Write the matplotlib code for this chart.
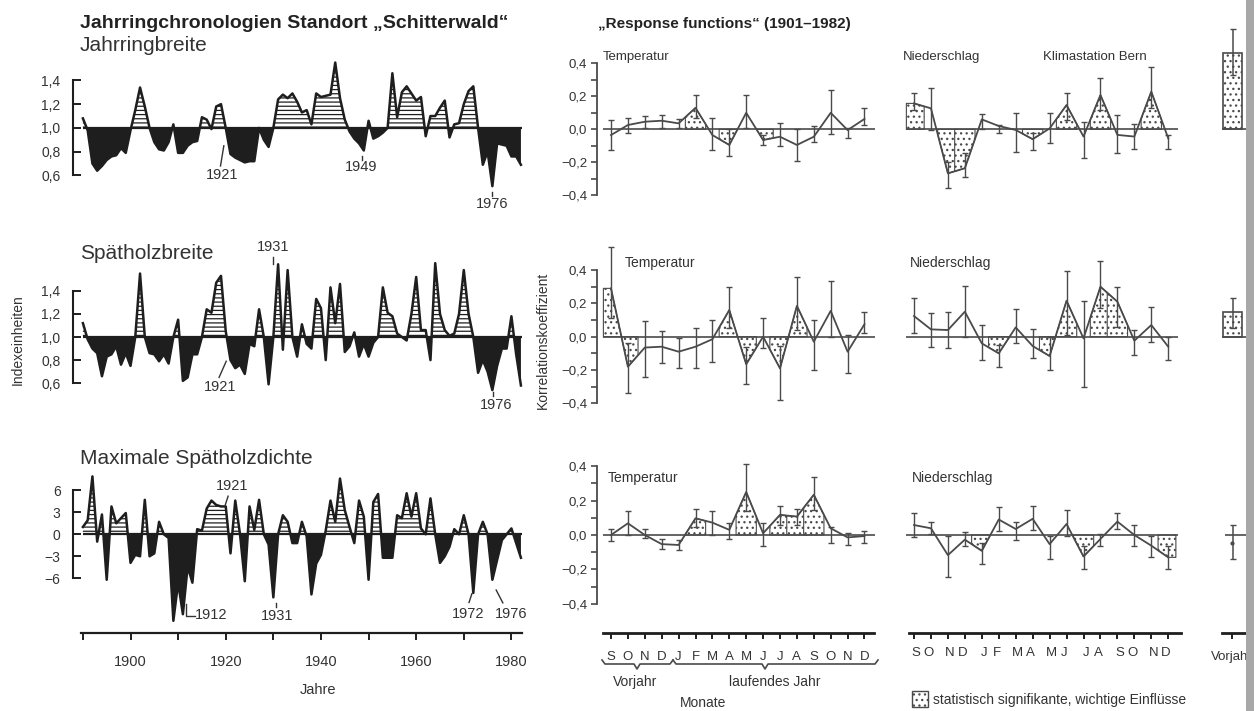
import numpy as np
import matplotlib.pyplot as plt
from matplotlib.lines import Line2D
from matplotlib.patches import Rectangle

plt.rcParams['font.family'] = ['Liberation Sans', 'DejaVu Sans']
plt.rcParams['hatch.linewidth'] = 0.9

W, H = 1254, 711
TXT = '#333333'
INK = '#1e1e1e'
GRY = '#4a4a4a'

# ---- data: tree-ring chronologies 1890-1982 ----
years = np.arange(1890, 1983)

ring_width = [1.08, 0.98, 0.70, 0.64, 0.68, 0.73, 0.76, 0.77, 0.83, 0.79,
              0.98, 1.15, 1.34, 1.18, 1.00, 0.88, 0.82, 0.81, 0.88, 1.03,
              0.79, 0.79, 0.85, 0.88, 0.89, 1.09, 1.07, 0.99, 1.18, 1.20,
              1.00, 0.78, 0.75, 0.73, 0.71, 0.72, 0.72, 1.00, 0.90, 0.84,
              1.00, 1.24, 1.28, 1.25, 1.29, 1.22, 1.13, 1.15, 1.03, 1.29,
              1.26, 1.27, 1.28, 1.55, 1.25, 1.07, 0.97, 0.91, 0.87, 0.81,
              1.06, 0.91, 0.93, 0.96, 1.00, 1.46, 1.09, 1.30, 1.35, 1.29,
              1.23, 1.26, 0.93, 1.10, 1.10, 1.17, 1.23, 0.92, 1.03, 1.04,
              1.20, 1.31, 1.35, 1.00, 0.69, 0.80, 0.51, 0.87, 0.86, 0.85,
              0.76, 0.76, 0.69]

late_width = [1.12, 0.98, 0.90, 0.86, 0.66, 0.83, 0.85, 0.92, 0.76, 0.86,
              0.75, 1.00, 1.55, 1.00, 0.86, 0.85, 0.79, 0.85, 0.77, 1.00,
              1.15, 0.62, 0.65, 0.85, 0.85, 1.00, 1.24, 1.21, 1.47, 1.53,
              1.05, 0.80, 0.73, 0.76, 0.68, 0.94, 0.92, 1.24, 1.00, 0.59,
              1.00, 1.63, 0.89, 1.58, 1.00, 0.83, 1.11, 0.94, 0.90, 1.33,
              1.25, 0.80, 1.43, 1.12, 1.46, 0.87, 0.92, 1.04, 0.83, 0.94,
              0.83, 0.95, 1.00, 1.43, 1.21, 1.18, 1.03, 1.00, 0.97, 1.20,
              1.52, 1.06, 1.06, 0.80, 1.64, 1.20, 1.06, 1.01, 1.03, 1.20,
              1.58, 1.20, 1.00, 0.69, 0.80, 0.70, 0.54, 0.75, 0.90, 0.90,
              1.18, 0.85, 0.58]

max_density = [1.0, 1.9, 7.9, -1.0, 2.7, -6.2, 3.8, 1.5, 2.2, 2.9,
               -3.9, -2.8, -3.0, 4.7, -3.0, -2.6, 1.7, 0.0, -0.5, -11.8,
               -6.6, -10.9, -4.4, -6.6, 0.7, 0.5, 3.5, 4.6, 4.0, 3.8,
               3.8, -2.6, 4.6, 0.0, -6.4, 3.8, 0.6, 4.7, 0.0, -1.4,
               -8.6, 0.0, 2.6, 1.7, -1.2, -1.2, 1.7, -0.3, -8.2, -4.0,
               -2.8, 0.5, 4.6, 1.7, 7.6, 3.3, 1.0, -1.2, 4.6, 2.4,
               -6.2, 4.4, 5.5, -3.2, -3.2, -3.2, 2.6, 2.2, 5.6, 2.4,
               5.6, 0.8, 0.0, 4.9, 0.0, -3.9, -3.0, -1.7, 0.7, 0.0,
               2.6, 0.0, -8.0, 0.0, 1.7, 0.0, -6.2, -3.5, -0.8, 0.0,
               0.8, -1.2, -3.2]

# ---- data: response functions (Sep previous year .. Dec current year) ----
months = ['S', 'O', 'N', 'D', 'J', 'F', 'M', 'A', 'M', 'J', 'J', 'A', 'S', 'O', 'N', 'D']

temp1_val = [-0.035, 0.026, 0.046, 0.052, 0.036, 0.13, -0.035, -0.095, 0.10, -0.065, -0.045, -0.095, -0.045, 0.10, -0.005, 0.063]
temp1_hi = [0.057, 0.07, 0.08, 0.087, 0.06, 0.21, 0.067, 0.0, 0.21, -0.035, 0.04, 0.0, 0.02, 0.24, 0.006, 0.13]
temp1_lo = [-0.125, -0.02, 0.006, 0.006, 0.006, 0.067, -0.125, -0.16, 0.006, -0.095, -0.10, -0.19, -0.075, -0.03, -0.05, 0.026]
temp1_sig = [5, 7, 9]

temp2_val = [0.29, -0.18, -0.065, -0.06, -0.09, -0.06, -0.015, 0.16, -0.165, 0.0, -0.19, 0.185, -0.03, 0.155, -0.09, 0.075]
temp2_hi = [0.54, -0.04, 0.095, 0.035, -0.01, 0.05, 0.10, 0.30, -0.06, 0.115, -0.055, 0.36, 0.10, 0.335, 0.01, 0.15]
temp2_lo = [0.11, -0.34, -0.24, -0.155, -0.185, -0.19, -0.15, 0.05, -0.285, -0.07, -0.38, 0.04, -0.20, 0.0, -0.22, 0.025]
temp2_sig = [0, 1, 7, 8, 10, 11]

temp3_val = [0.0, 0.068, 0.0, -0.053, -0.058, 0.097, 0.072, 0.03, 0.25, 0.01, 0.117, 0.107, 0.234, 0.039, -0.014, -0.006]
temp3_hi = [0.033, 0.14, 0.035, -0.025, -0.03, 0.15, 0.137, 0.068, 0.41, 0.072, 0.166, 0.152, 0.34, 0.049, 0.01, 0.023]
temp3_lo = [-0.033, 0.0, -0.02, -0.084, -0.09, 0.049, 0.0, -0.025, 0.137, -0.064, 0.058, 0.058, 0.146, -0.045, -0.058, -0.045]
temp3_sig = [5, 8, 10, 11, 12]

prec1_val = [0.157, 0.127, -0.267, -0.236, 0.06, 0.02, -0.004, -0.06, 0.005, 0.147, -0.044, 0.208, -0.034, -0.044, 0.228, -0.055]
prec1_hi = [0.22, 0.25, -0.196, -0.145, 0.093, 0.026, 0.10, -0.024, 0.10, 0.218, 0.046, 0.31, 0.087, 0.032, 0.376, -0.034]
prec1_lo = [0.117, -0.004, -0.357, -0.287, 0.0, -0.024, -0.135, -0.125, -0.085, 0.057, -0.176, 0.117, -0.145, -0.121, 0.127, -0.121]
prec1_sig = [0, 2, 3, 7, 9, 11, 14]

prec2_val = [0.124, 0.044, 0.04, 0.15, -0.04, -0.10, 0.056, -0.056, -0.116, 0.216, -0.01, 0.30, 0.21, -0.024, 0.07, -0.06]
prec2_hi = [0.23, 0.144, 0.15, 0.304, 0.07, -0.05, 0.164, 0.044, -0.004, 0.394, 0.214, 0.456, 0.30, 0.04, 0.18, 0.0]
prec2_lo = [0.02, -0.06, -0.07, 0.0, -0.14, -0.18, -0.04, -0.13, -0.20, 0.01, -0.304, 0.17, 0.06, -0.11, -0.03, -0.14]
prec2_sig = [5, 8, 9, 11, 12]

prec3_val = [0.058, 0.039, -0.117, -0.027, -0.092, 0.09, 0.035, 0.094, -0.053, 0.064, -0.125, -0.023, 0.078, 0.0, -0.062, -0.13]
prec3_hi = [0.129, 0.074, -0.008, 0.016, -0.047, 0.162, 0.078, 0.17, -0.004, 0.146, -0.062, 0.006, 0.129, 0.058, -0.008, -0.062]
prec3_lo = [-0.014, 0.006, -0.242, -0.066, -0.17, 0.025, -0.027, 0.029, -0.137, -0.008, -0.195, -0.062, 0.035, -0.066, -0.13, -0.20]
prec3_sig = [4, 10, 15]

# previous-year ring ("Vorjahr") coefficient per row
prev_val = [0.46, 0.15, -0.045]
prev_hi = [0.61, 0.23, 0.06]
prev_lo = [0.33, 0.055, -0.14]
prev_sig = [True, True, False]

fig = plt.figure(figsize=(W / 100, H / 100), dpi=100)


def px_axes(x0, y0, x1, y1):
    # axes from pixel box (origin top-left of the picture)
    ax = fig.add_axes([x0 / W, 1 - y1 / H, (x1 - x0) / W, (y1 - y0) / H])
    ax.patch.set_alpha(0)
    return ax


def fig_text(x, y, s, **kw):
    kw.setdefault('color', TXT)
    fig.text(x / W, 1 - y / H, s, **kw)


def fig_line(xs, ys, **kw):
    fig.add_artist(Line2D([x / W for x in xs], [1 - y / H for y in ys],
                          transform=fig.transFigure, **kw))


# ---------- left column: chronologies ----------
def chrono_panel(y0, y1, vals, base, lim, ticks, labels):
    ax = px_axes(73, y0, 522.5, y1)
    v = np.array(vals)
    ax.fill_between(years, base, v, where=v >= base, interpolate=True,
                    facecolor='white', edgecolor=INK, hatch='----', linewidth=0)
    ax.fill_between(years, base, v, where=v <= base, interpolate=True,
                    facecolor=INK, linewidth=0)
    ax.plot(years, v, color=INK, lw=1.8)
    ax.hlines(base, 1890, 1982.3, color=INK, lw=1.6)
    ax.set_xlim(1887.92, 1982.33)
    ax.set_ylim(lim)
    for s in ['top', 'right', 'bottom']:
        ax.spines[s].set_visible(False)
    ax.spines['left'].set_bounds(ticks[0], ticks[-1])
    ax.spines['left'].set_linewidth(1.5)
    ax.spines['left'].set_color(INK)
    ax.set_yticks(ticks)
    ax.set_yticklabels(labels)
    ax.tick_params(axis='y', direction='in', length=6, width=1.4, pad=9,
                   labelsize=10, labelcolor=TXT, color=INK)
    ax.set_xticks([])
    return ax


ax1 = chrono_panel(56.6, 193.3, ring_width, 1.0, (0.45, 1.6),
                   [0.6, 0.8, 1.0, 1.2, 1.4], ['0,6', '0,8', '1,0', '1,2', '1,4'])
ax2 = chrono_panel(253.9, 400.5, late_width, 1.0, (0.45, 1.72),
                   [0.6, 0.8, 1.0, 1.2, 1.4], ['0,6', '0,8', '1,0', '1,2', '1,4'])
ax3 = chrono_panel(468.3, 632.7, max_density, 0.0, (-13.42, 9.0),
                   [-6, -3, 0, 3, 6], ['\u22126', '\u22123', '0', '3', '6'])

ax3.spines['bottom'].set_visible(True)
ax3.spines['bottom'].set_bounds(1889.6, 1982.3)
ax3.spines['bottom'].set_linewidth(1.6)
ax3.spines['bottom'].set_color(INK)
ax3.set_xticks([1900, 1920, 1940, 1960, 1980])
ax3.set_xticks([1890, 1910, 1930, 1950, 1970], minor=True)
ax3.tick_params(axis='x', which='both', direction='out', length=5, width=1.4,
                color=INK, pad=11, labelsize=10.5, labelcolor=TXT)

anno = dict(ha='center', va='center', fontsize=10.5, color=TXT)
ln = dict(color=TXT, lw=1.0, clip_on=False)
ax1.text(1919.2, 0.60, '1921', **anno)
ax1.plot([1918.9, 1919.6], [0.68, 0.85], **ln)
ax1.text(1948.4, 0.67, '1949', **anno)
ax1.plot([1948.6, 1948.6], [0.73, 0.76], **ln)
ax1.text(1976.0, 0.36, '1976', **anno)
ax1.plot([1976.0, 1976.0], [0.43, 0.46], **ln)

ax2.text(1929.9, 1.78, '1931', **anno)
ax2.plot([1929.9, 1929.9], [1.63, 1.69], **ln)
ax2.text(1918.8, 0.57, '1921', **anno)
ax2.plot([1918.6, 1920.1], [0.65, 0.79], **ln)
ax2.text(1976.8, 0.41, '1976', **anno)
ax2.plot([1976.2, 1976.2], [0.49, 0.52], **ln)

ax3.text(1921.3, 6.6, '1921', **anno)
ax3.plot([1920.5, 1919.9], [5.2, 4.0], **ln)
ax3.text(1916.9, -11.0, '1912', **anno)
ax3.plot([1911.7, 1911.7, 1913.6], [-9.5, -11.1, -11.1], **ln)
ax3.text(1930.8, -11.1, '1931', **anno)
ax3.plot([1930.6, 1930.6], [-9.4, -9.9], **ln)
ax3.text(1970.9, -10.9, '1972', **anno)
ax3.plot([1971.1, 1971.7], [-9.3, -8.1], **ln)
ax3.text(1980.0, -10.9, '1976', **anno)
ax3.plot([1978.2, 1976.8], [-9.35, -7.6], **ln)

fig_text(80, 28, 'Jahrringchronologien Standort \u201eSchitterwald\u201c',
         fontsize=14, fontweight='bold', va='baseline', color='#222222')
fig_text(80, 51, 'Jahrringbreite', fontsize=15, va='baseline')
fig_text(80, 259, 'Sp\u00e4tholzbreite', fontsize=15, va='baseline')
fig_text(80, 464, 'Maximale Sp\u00e4tholzdichte', fontsize=15, va='baseline')
fig_text(18, 340, 'Indexeinheiten', fontsize=10, rotation=90, ha='center', va='center')
fig_text(318, 690, 'Jahre', fontsize=10.5, ha='center', va='center')

# ---------- right block: response functions ----------
x_m = np.arange(16)
T_XLIM = ((597 - 611) / 16.9, (880 - 611) / 16.9)
P_XLIM = ((900 - 914) / 16.95, (1180 - 914) / 16.95)


def response(ax, val, hi, lo, sig, xlim):
    v = np.array(val)
    for i in sig:
        a = i - 0.6 if i > 0 else -0.45
        b = i + 0.6 if i < 15 else 15.45
        xs = np.linspace(a, b, 60)
        vs = np.interp(xs, x_m, v)
        sgn = np.sign(v[i])
        ax.fill_between(xs, 0, vs, where=sgn * vs >= 0, interpolate=True,
                        facecolor='white', edgecolor=GRY, hatch='...', linewidth=0.8)
    ax.hlines(0, -0.47, 15.6, color=GRY, lw=1.2)
    ax.plot(x_m, v, color=GRY, lw=1.3)
    ax.errorbar(x_m, v, yerr=[np.clip(v - np.array(lo), 0, None), np.clip(np.array(hi) - v, 0, None)],
                fmt='none', ecolor=GRY, elinewidth=1.0, capsize=2, capthick=1.0)
    ax.set_xlim(xlim)
    for s in ['top', 'right', 'bottom', 'left']:
        ax.spines[s].set_visible(False)
    ax.set_xticks([])
    ax.set_yticks([])


def temp_axis(ax):
    ax.spines['left'].set_visible(True)
    ax.spines['left'].set_bounds(-0.4, 0.4)
    ax.spines['left'].set_color(GRY)
    ax.spines['left'].set_linewidth(1.3)
    ax.set_yticks([-0.4, -0.2, 0.0, 0.2, 0.4])
    ax.set_yticklabels(['\u22120,4', '\u22120,2', '0,0', '0,2', '0,4'])
    ax.set_yticks([-0.3, -0.1, 0.1, 0.3], minor=True)
    ax.tick_params(axis='y', which='both', direction='out', length=4, width=1.2,
                   color=GRY, labelsize=9.5, labelcolor=TXT, pad=3)


rows = [
    (55.05, 203.55, (-0.45, 0.45), temp1_val, temp1_hi, temp1_lo, temp1_sig,
     prec1_val, prec1_hi, prec1_lo, prec1_sig),
    (261.7, 411.7, (-0.45, 0.45), temp2_val, temp2_hi, temp2_lo, temp2_sig,
     prec2_val, prec2_hi, prec2_lo, prec2_sig),
    (457.6, 632.7, (-0.568, 0.45), temp3_val, temp3_hi, temp3_lo, temp3_sig,
     prec3_val, prec3_hi, prec3_lo, prec3_sig),
]

t_axes, p_axes, v_axes = [], [], []
for r, (y0, y1, ylim, tv, th, tl, ts, pv, ph, pl, ps) in enumerate(rows):
    at = px_axes(597, y0, 880, y1)
    response(at, tv, th, tl, ts, T_XLIM)
    at.set_ylim(ylim)
    temp_axis(at)
    ap = px_axes(900, y0, 1180, y1)
    response(ap, pv, ph, pl, ps, P_XLIM)
    ap.set_ylim(ylim)
    # previous-year bar
    av = px_axes(1205, y0, 1254, y1)
    av.set_xlim(-1.35, 1.1)
    av.set_ylim(ylim)
    if prev_sig[r]:
        av.bar(0, prev_val[r], width=0.95, facecolor='white', edgecolor=GRY,
               hatch='...', linewidth=1.2)
        av.hlines(0, -0.5, 1.1, color=GRY, lw=1.2)
    else:
        av.hlines(0, -0.35, 1.1, color=GRY, lw=1.2)
        av.plot([0], [prev_val[r]], 'o', color=GRY, ms=2)
    av.errorbar([0.05], [prev_val[r]], yerr=[[prev_val[r] - prev_lo[r]], [prev_hi[r] - prev_val[r]]],
                fmt='none', ecolor=GRY, elinewidth=1.1, capsize=2, capthick=1.0)
    for s in ['top', 'right', 'bottom', 'left']:
        av.spines[s].set_visible(False)
    av.set_xticks([])
    av.set_yticks([])
    for a in (at, ap, av):
        for c in a.get_children():
            if hasattr(c, 'set_clip_on'):
                c.set_clip_on(False)
    t_axes.append(at)
    p_axes.append(ap)
    v_axes.append(av)

# month axes at the bottom of the third row
for a, bounds, labels in [(t_axes[2], (-0.5, 15.55), months),
                          (p_axes[2], (-0.3, 15.75), [''] * 16),
                          (v_axes[2], (-0.5, 1.1), ['Vorjahr'])]:
    a.spines['bottom'].set_visible(True)
    a.spines['bottom'].set_bounds(*bounds)
    a.spines['bottom'].set_linewidth(2.0)
    a.spines['bottom'].set_color(INK)
    a.set_xticks(range(len(labels)) if len(labels) > 1 else [0])
    a.set_xticklabels(labels)
    a.tick_params(axis='x', direction='out', length=4, width=1.4, color=INK,
                  pad=9, labelsize=9.5, labelcolor=TXT)

# precipitation months are printed in pairs
for i, m in enumerate(months):
    off = 0.13 if i % 2 == 0 else -0.13
    p_axes[2].text(i + off, -0.686, m, ha='center', va='center', fontsize=9.5,
                   color=TXT, clip_on=False)

fig_text(598, 28, '\u201eResponse functions\u201c (1901\u20131982)',
         fontsize=11, fontweight='bold', va='baseline', color='#222222')
fig_text(603, 57, 'Temperatur', fontsize=9.5, va='center')
fig_text(625, 263, 'Temperatur', fontsize=10, va='center')
fig_text(608, 478, 'Temperatur', fontsize=10, va='center')
fig_text(903, 57, 'Niederschlag', fontsize=9.5, va='center')
fig_text(910, 263, 'Niederschlag', fontsize=10, va='center')
fig_text(912, 478, 'Niederschlag', fontsize=10, va='center')
fig_text(1043, 57, 'Klimastation Bern', fontsize=9.5, va='center')
fig_text(543, 340, 'Korrelationskoeffizient', fontsize=10, rotation=90,
         ha='center', va='center')


def brace(x0, x1, xm, y):
    fig_line([x0, x0 + 3, xm - 3, xm, xm + 3, x1 - 3, x1],
             [y - 4, y, y, y + 5, y, y, y - 4], color=GRY, lw=1.2)


brace(602, 673, 637, 664)
brace(673, 878, 765, 664)
fig_text(635, 682, 'Vorjahr', fontsize=10, ha='center', va='center')
fig_text(775, 682, 'laufendes Jahr', fontsize=10, ha='center', va='center')
fig_text(703, 703, 'Monate', fontsize=10, ha='center', va='center')

# legend for significant influences
fig.add_artist(Rectangle((912 / W, 1 - 707 / H), 16 / W, 16 / H, transform=fig.transFigure,
                         facecolor='white', edgecolor=GRY, hatch='...', linewidth=1.0))
fig_text(933, 700, 'statistisch signifikante, wichtige Einfl\u00fcsse', fontsize=10, va='center')

# page gutter on the right edge of the scan
fig.add_artist(Rectangle((1246 / W, 0), 8 / W, 1, transform=fig.transFigure,
                         facecolor='#a8a8a8', edgecolor='none', zorder=20))

fig.savefig('out.png', dpi=100)
